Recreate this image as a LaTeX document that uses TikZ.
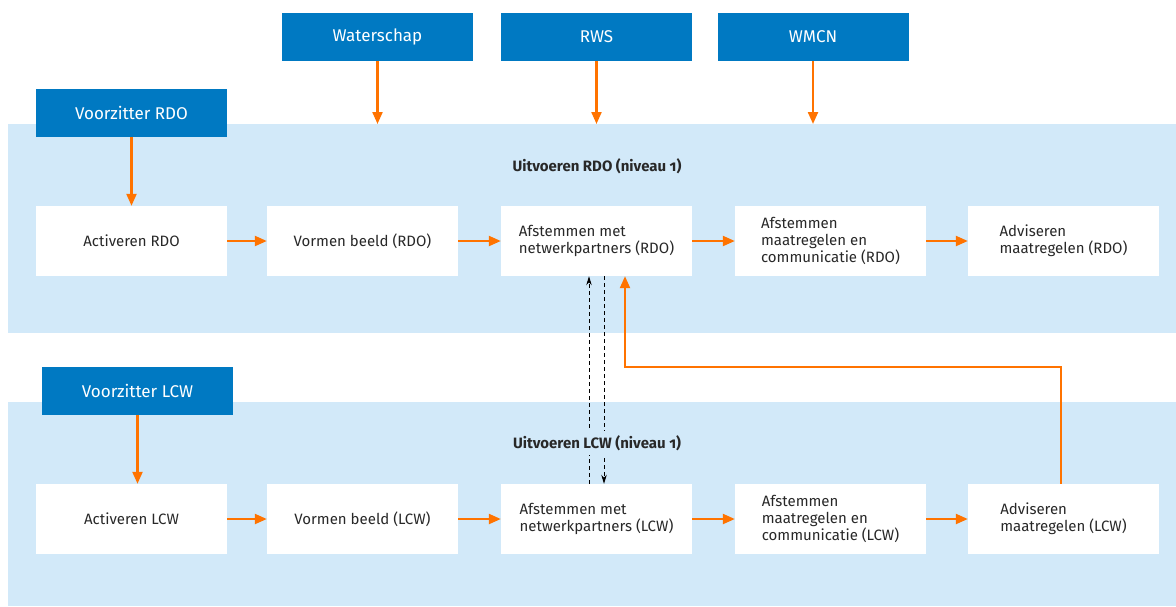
\documentclass[tikz,border=0pt]{standalone}
\usepackage{fontspec}
\setmainfont{Fira Sans}[Numbers=OldStyle]
\usetikzlibrary{arrows.meta}
\definecolor{darkblue}{RGB}{0,121,194}
\definecolor{bandblue}{RGB}{210,233,249}
\definecolor{flow}{RGB}{255,115,0}
\definecolor{ink}{RGB}{40,40,40}
\tikzset{
  band/.style={fill=bandblue, draw=none},
  actor/.style={fill=darkblue, text=white, inner sep=0pt, minimum width=191pt,
    minimum height=48pt, font=\fontsize{17}{20}\selectfont},
  stepbox/.style={fill=white, text=ink, inner sep=0pt, minimum width=191pt,
    minimum height=70pt, align=left, font=\fontsize{15}{17}\selectfont},
  title/.style={fill=bandblue, text=ink, inner sep=4pt,
    font=\fontsize{15}{18}\selectfont\bfseries},
  flowarrow/.style={draw=flow, line width=2.2pt, -{Triangle[length=12pt,width=10pt]}},
  link/.style={draw=black, line width=0.9pt, dash pattern=on 4pt off 3pt,
    -{Stealth[length=9pt,width=5.5pt]}}
}
\begin{document}
\begin{tikzpicture}[x=1pt, y=-1pt]
  \useasboundingbox (0,0) rectangle (1176,606);

  % the two process lanes
  \fill[band] (8,124) rectangle (1176,333);
  \fill[band] (8,402) rectangle (1176,606);
  \coordinate (lane1top) at (0,124);

  % actors
  \node[actor] (ws)   at (377.5,37)  {Waterschap};
  \node[actor] (rws)  at (596.5,37)  {RWS};
  \node[actor] (wmcn) at (813,37)    {WMCN};
  \node[actor] (vrdo) at (131.5,113) {Voorzitter RDO};
  \node[actor] (vlcw) at (137.5,391) {Voorzitter LCW};

  % RDO steps
  \node[stepbox] (r1) at (131.5,241)  {Activeren RDO};
  \node[stepbox] (r2) at (362.5,241)  {Vormen beeld (RDO)};
  \node[stepbox] (r3) at (596.5,241)  {Afstemmen met\\netwerkpartners (RDO)};
  \node[stepbox] (r4) at (830.5,241)  {Afstemmen\\maatregelen en\\communicatie (RDO)};
  \node[stepbox] (r5) at (1063.5,241) {Adviseren\\maatregelen (RDO)};

  % LCW steps
  \node[stepbox] (l1) at (131.5,519)  {Activeren LCW};
  \node[stepbox] (l2) at (362.5,519)  {Vormen beeld (LCW)};
  \node[stepbox] (l3) at (596.5,519)  {Afstemmen met\\netwerkpartners (LCW)};
  \node[stepbox] (l4) at (830.5,519)  {Afstemmen\\maatregelen en\\communicatie (LCW)};
  \node[stepbox] (l5) at (1063.5,519) {Adviseren\\maatregelen (LCW)};

  % input from the actors
  \draw[flowarrow] (ws.south)   -- (ws.south |- lane1top);
  \draw[flowarrow] (rws.south)  -- (rws.south |- lane1top);
  \draw[flowarrow] (wmcn.south) -- (wmcn.south |- lane1top);
  \draw[flowarrow] (vrdo.south) -- (vrdo.south |- r1.north);
  \draw[flowarrow] (vlcw.south) -- (vlcw.south |- l1.north);

  % sequence within each lane
  \foreach \a/\b in {r1/r2, r2/r3, r3/r4, r4/r5, l1/l2, l2/l3, l3/l4, l4/l5}
    \draw[flowarrow] (\a.east) -- (\b.west);

  % coordination between the lanes
  \draw[link] ([xshift=-7.5pt]l3.north) -- ([xshift=-7.5pt]r3.south);
  \draw[link] ([xshift=7.5pt]r3.south) -- ([xshift=7.5pt]l3.north);

  % advice from LCW back to RDO
  \coordinate (fb) at (625,367);
  \draw[flowarrow] ([xshift=-2.5pt]l5.north) |- (fb) -- (fb |- r3.south);

  % lane titles
  \node[title] (t1) at (597,166) {Uitvoeren RDO (niveau 1)};
  \node[title] (t2) at (597,443) {Uitvoeren LCW (niveau 1)};
\end{tikzpicture}
\end{document}
